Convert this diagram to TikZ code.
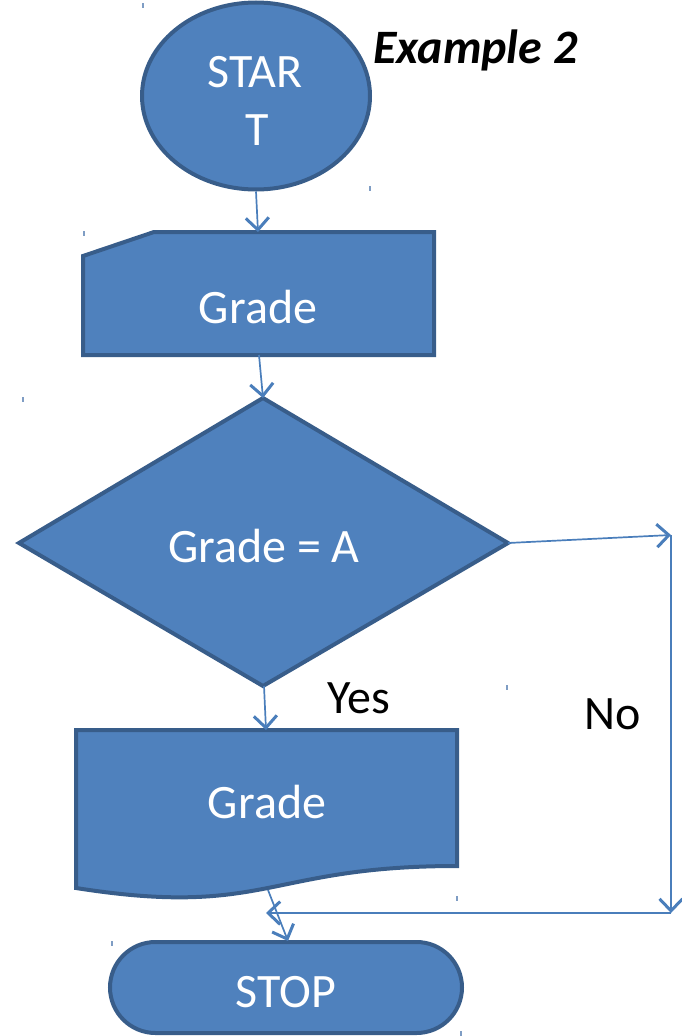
\documentclass[tikz,border=0pt]{standalone}
\usepackage{fontspec}
\setmainfont{Carlito}
\usetikzlibrary{arrows.meta,shapes.geometric,shapes.misc}
\definecolor{boxfill}{HTML}{4F81BD}
\definecolor{boxline}{HTML}{385D8A}
\definecolor{flowline}{HTML}{4A7EBB}
\definecolor{tickmark}{HTML}{7F9DC4}

\begin{document}
\begin{tikzpicture}[x=1pt,y=-1pt,
  shapebox/.style={fill=boxfill,draw=boxline,line width=4pt,line join=miter},
  boxtext/.style={font=\fontsize{48}{58}\selectfont,text=white,anchor=base,inner sep=0pt},
  plaintext/.style={font=\fontsize{48}{58}\selectfont,text=black,anchor=base,inner sep=0pt},
  flow/.style={draw=flowline,line width=1.7pt,
    -{Straight Barb[length=12pt,width=23pt,line width=3pt]}},
  tickline/.style={draw=tickmark,line width=1.4pt},
]
\useasboundingbox (0,0) rectangle (681,1036);

% --- start terminal
\node[shapebox,ellipse,minimum width=228pt,minimum height=187pt,inner sep=0pt]
  (start) at (256,96) {};
\node[boxtext] (startA) at (255,87) {STAR};
\node[boxtext] (startB) at (257,145) {T};
\node[plaintext,anchor=base west] (title) at (373,63) {\bfseries\itshape Example 2};

% --- manual input
\draw[shapebox] (83,256) -- (154,232) -- (434,232) -- (434,355) -- (83,355) -- cycle;
\coordinate (inTop) at (258,232);
\coordinate (inBot) at (259,355);
\node[boxtext] (inText) at (258,323) {Grade};

% --- decision
\draw[shapebox] (263,398) -- (508,543) -- (263,686) -- (19,543) -- cycle;
\coordinate (decTop) at (263,398);
\coordinate (decRight) at (508,543);
\coordinate (decBot) at (264,686);
\node[boxtext] (decText) at (264,562) {Grade = A};

% --- output document
\draw[shapebox] (76,730) -- (457,730) -- (457,866)
  .. controls (266.5,866) and (266.5,918) .. (76,888) -- cycle;
\coordinate (docTop) at (266,730);
\coordinate (docBot) at (268,890);
\node[boxtext] (docText) at (267,818) {Grade};

% --- stop terminal
\node[shapebox,rounded rectangle,minimum width=352pt,minimum height=91pt,inner sep=0pt]
  (stop) at (286,987.5) {};
\node[boxtext] (stopText) at (286,1007) {STOP};

% --- labels
\node[plaintext] (yes) at (359,713) {Yes};
\node[plaintext] (no) at (613,729) {No};

% --- connectors
\coordinate (noTurn) at (671,535);
\coordinate (noDown) at (671,913);
\coordinate (merge) at (266,913);
\coordinate (stopTop) at (288,941);

\draw[flow] (start.south) -- (inTop);
\draw[flow] (inBot) -- (decTop);
\draw[flow] (decBot) -- (docTop);
\draw[flow] (decRight) -- (noTurn);
\draw[flow] (noTurn) -- (noDown);
\draw[flow] (noDown) -- (merge);
\draw[flow] (docBot) -- (stopTop);

% --- small corner marks
\foreach \x/\y in {143/3, 370/186, 84/231, 23/397, 507/685, 457/896, 112/941, 461/1031}
  \draw[tickline] (\x,\y) -- ++(0,5);
\end{tikzpicture}
\end{document}
